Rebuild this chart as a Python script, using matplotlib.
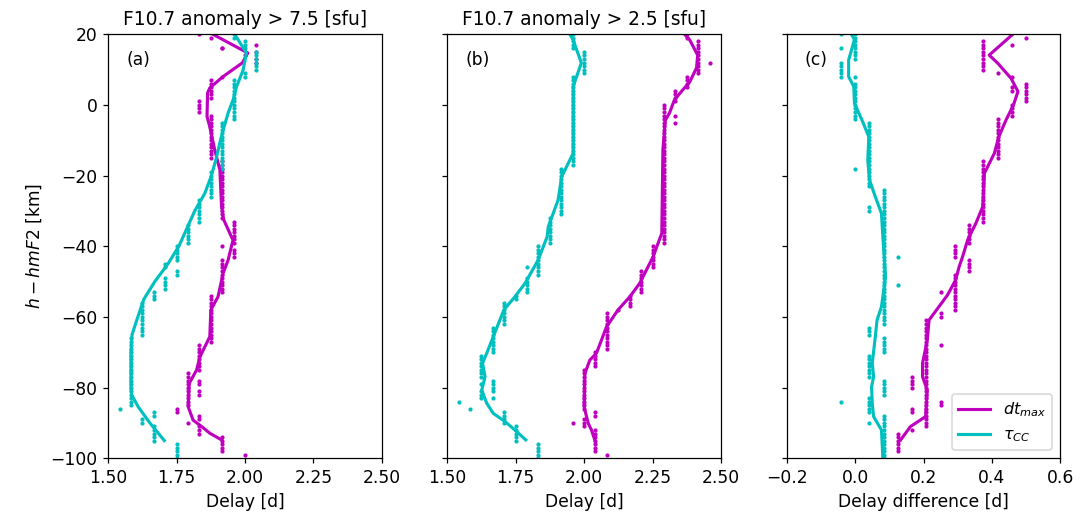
import matplotlib
matplotlib.use("Agg")
import matplotlib.pyplot as plt
import numpy as np


HEIGHTS = np.arange(-100, 21)  # h - hmF2 grid [km], bottom to top
N = None

# delays in hours at every height level (rows of ten km, from -100 upward)
DTMAX_A_HOURS = [
    N, 48, 46, 46, 46, 46, 46, 44, 44, 44,
    43, 44, 44, 42, 42, 43, 43, 43, 43, 43,
    43, 43, 43, 43, 43, 44, 44, 44, 44, 44,
    44, 44, 44, 45, 45, 45, 45, 45, 45, 45,
    45, 45, 45, 45, 45, 45, 45, 46, 46, 46,
    46, 46, 46, 46, 46, 46, 46, 47, 47, 47,
    46, 47, 47, 47, 47, 47, 47, 47, 46, 46,
    46, 46, 46, 46, 46, 46, 46, 46, 46, 46,
    46, 46, 46, 46, 46, 45, 45, 45, 45, 45,
    45, 45, 45, 45, 45, 45, 45, 45, 44, 44,
    44, 44, 45, 45, 45, 45, 45, 45, 46, N,
    N, N, 49, 49, 48, 49, 46, 49, N, 45,
    44,
]
TAU_A_HOURS = [
    42, 42, 42, 42, 42, 40, 40, 40, 40, 40,
    39, 39, 40, 40, 37, 38, 38, 38, 38, 38,
    38, 38, 38, 38, 38, 38, 38, 38, 38, 38,
    38, 38, 38, 38, 38, 39, 39, 39, 39, 39,
    39, 39, 39, 39, 39, 40, 40, 40, 41, 41,
    41, 41, 42, 42, 41, 41, 42, 42, 42, 42,
    42, 43, 43, 43, 43, 43, 43, 44, 44, 44,
    44, 44, 44, 44, 45, 45, 45, 45, 45, 45,
    45, 45, 46, 46, 46, 46, 46, 46, 46, 46,
    46, 46, 46, 46, 46, 46, 47, 47, 47, 47,
    47, 47, 47, 47, 47, 47, 47, 47, 48, 48,
    49, 49, 49, 49, 49, 49, 48, 48, 48, 47,
    47,
]
DTMAX_B_HOURS = [
    N, 50, 49, 49, 49, 49, 49, 49, 49, 48,
    48, 48, 49, 49, 48, 48, 48, 48, 48, 48,
    48, 48, 48, 48, 48, 48, 49, 49, 49, 49,
    49, 50, 50, 50, 50, 50, 50, 50, 50, 50,
    50, 50, 51, 52, 52, 52, 52, 53, 53, 53,
    53, 53, 53, 53, 54, 54, 54, 54, 54, 54,
    54, 55, 55, 55, 55, 55, 55, 55, 55, 55,
    55, 55, 55, 55, 55, 55, 55, 55, 55, 55,
    55, 55, 55, 55, 55, 55, 55, 55, 55, 55,
    55, 55, 55, 55, 55, 55, 55, 55, 55, 55,
    55, 56, 56, 56, 56, 57, 57, 57, 57, 58,
    58, 58, 58, 58, 58, 58, 58, 58, 58, 57,
    57,
]
TAU_B_HOURS = [
    44, 44, 44, 44, 44, 42, 42, 42, 42, 42,
    41, 41, 41, 41, 38, N, 37, 39, 39, 40,
    40, 40, 40, 39, 39, 39, 39, 39, 39, 39,
    40, 40, 40, 40, 40, 40, 40, 40, 41, 41,
    41, 41, 41, 41, 41, 42, 42, 43, 43, 43,
    43, 43, 44, 44, 44, 44, 44, 44, 44, 44,
    44, 45, 45, 45, 45, 45, 45, 45, 45, 46,
    46, 46, 46, 46, 46, 46, 46, 46, 46, 46,
    46, 46, 46, 47, 47, 47, 47, 47, 47, 47,
    47, 47, 47, 47, 47, 47, 47, 47, 47, 47,
    47, 47, 47, 47, 47, 47, 47, 47, 47, 48,
    48, 48, 48, 48, 48, 48, 47, 47, 47, 47,
    47,
]
DTMAX_C_HOURS = [
    N, N, 3, 3, 3, 3, 3, 3, 4, 5,
    5, 5, 5, 5, 5, 5, 5, 5, 5, 5,
    5, 5, 5, 5, 5, 5, 5, 5, 5, 5,
    5, 5, 5, 5, 5, 5, 5, 5, 5, 5,
    6, 6, 7, 7, 7, 7, 7, 7, 7, 7,
    7, 7, 7, 8, 8, 8, 8, 7, 7, 7,
    7, 8, 8, 8, 8, 8, 8, 9, 9, 9,
    9, 9, 9, 9, 9, 9, 9, 9, 9, 9,
    9, 9, 9, 9, 9, 10, 10, 10, 10, 10,
    10, 10, 10, 10, 10, 10, 10, 11, 11, 11,
    11, 12, 12, 12, 12, 12, 12, N, 11, 10,
    9, 9, 9, 9, 9, 9, 9, 9, 9, 12,
    N,
]
TAU_C_HOURS = [
    2, 2, 2, 2, 2, 2, 2, 2, 2, 2,
    2, 2, 2, 1, 1, 1, 1, 1, 2, 2,
    2, 2, 2, 1, 1, 1, 1, 1, 1, 1,
    2, 2, 2, 2, 2, 1, 1, 1, 2, 2,
    2, 2, 2, 2, 2, 2, 2, 2, 2, 2,
    2, 2, 2, 2, 2, 2, 2, 2, 2, 2,
    2, 2, 2, 2, 2, 2, 2, 2, 2, 2,
    2, 2, 2, 2, 2, 2, 2, 1, 1, 1,
    1, 1, 1, 1, 1, 1, 1, 1, 1, 1,
    1, 1, 1, 1, 1, 1, 0, 0, 0, 0,
    0, 0, 0, 0, 0, 0, 0, N, -1, -1,
    -1, -1, -1, 0, 0, 0, 0, 0, 0, 0,
    0,
]

# additional points sharing a height with the ones above: (height, hours)
DTMAX_A_EXTRA = [(-78, 44), (-79, 44), (-81, 44), (-82, 44), (16, 46)]
TAU_A_EXTRA = []
DTMAX_B_EXTRA = [(-90, 47), (-3, 56), (-5, 56), (12, 59)]
TAU_B_EXTRA = [(-46, 43), (-79, 39), (-81, 39), (-83, 40)]
DTMAX_C_EXTRA = [(4, 11), (5, 11), (17, 11), (-53, 6), (-68, 6),
                 (-77, 4), (-78, 4), (-79, 4), (-80, 4), (-86, 4), (-87, 4),
                 (-84, 6), (-85, 6)]
TAU_C_EXTRA = [(8, 0), (16, -1), (20, -1), (-18, 0), (-29, 1), (-30, 1),
               (-43, 3), (-51, 3), (-84, -1), (-90, 1)]

# smoothed profiles: heights [km] and delays [d]
DTMAX_A_LINE_H = [20, 14.7, 11.9, 8, 4.8, 3.4, -3.3, -6.2, -12.7, -18.4,
                  -28.8, -32.5, -37.3, -38.2, -43.9, -47.6, -54.3, -58,
                  -65.6, -71.3, -75, -78.8, -85.4, -89.2, -91, -92.9, -94.8]
DTMAX_A_LINE_D = [1.882, 2.01, 1.99, 1.919, 1.871, 1.863, 1.861, 1.871,
                  1.889, 1.908, 1.914, 1.922, 1.95, 1.956, 1.938, 1.92,
                  1.901, 1.875, 1.871, 1.835, 1.823, 1.796, 1.792, 1.81,
                  1.841, 1.871, 1.914]
TAU_A_LINE_H = [20, 14.7, 9.9, 5.2, 1.4, -2.3, -7.1, -10, -15, -20, -25,
                -30, -35, -40, -45, -50, -55, -60, -65, -70, -75, -80, -82,
                -85.5, -90, -95]
TAU_A_LINE_D = [1.962, 2.005, 1.993, 1.969, 1.956, 1.938, 1.92, 1.91,
                1.895, 1.877, 1.853, 1.816, 1.787, 1.758, 1.718, 1.67,
                1.63, 1.608, 1.587, 1.583, 1.583, 1.583, 1.585, 1.61,
                1.652, 1.705]
DTMAX_B_LINE_H = [20, 18.4, 14.1, 10.5, 6.5, 4.2, 1.4, -2.3, -4.3, -12.7,
                  -36.3, -43, -50.5, -54.3, -58, -62.8, -70.3, -72.2, -76,
                  -85.4, -90.1, -92, -94.8]
DTMAX_B_LINE_D = [2.367, 2.386, 2.415, 2.411, 2.386, 2.36, 2.33, 2.312,
                  2.297, 2.288, 2.284, 2.252, 2.203, 2.167, 2.124, 2.082,
                  2.045, 2.021, 2.003, 2.0, 2.015, 2.027, 2.039]
TAU_B_LINE_H = [20, 18.4, 11.9, 5.2, -13.7, -20.3, -26.9, -34.5, -37.3,
                -43.9, -50.5, -54.3, -58, -65.6, -70.3, -73.1, -76.9,
                -80.7, -84.4, -87.3, -89.6, -92, -94.8]
TAU_B_LINE_D = [1.948, 1.96, 1.99, 1.96, 1.96, 1.918, 1.905, 1.869, 1.865,
                1.832, 1.784, 1.747, 1.707, 1.668, 1.644, 1.629, 1.638,
                1.626, 1.644, 1.668, 1.711, 1.747, 1.787]
DTMAX_C_LINE_H = [20, 14.1, 11.8, 7.5, 3.8, 0, -4.3, -9, -13.7, -19.3,
                  -28.8, -33.5, -38.2, -43, -45.8, -49.5, -53.8, -57.1,
                  -60.9, -66.5, -73.1, -76.9, -80.7, -88.2, -91, -94.8]
DTMAX_C_LINE_D = [0.461, 0.392, 0.417, 0.456, 0.476, 0.463, 0.441, 0.42,
                  0.407, 0.378, 0.373, 0.353, 0.329, 0.314, 0.304, 0.294,
                  0.27, 0.245, 0.216, 0.211, 0.197, 0.197, 0.211, 0.206,
                  0.162, 0.133]
TAU_C_LINE_H = [20, 18.5, 12.7, 8, 5.2, 0.5, -4.3, -9, -15.6, -21.2, -26,
                -30.7, -37.3, -48.6, -57.1, -60.9, -65.6, -73.1, -76.9,
                -79.8, -84.4, -88.2, -92, -100]
TAU_C_LINE_D = [-0.011, -0.002, -0.019, -0.019, -0.004, -0.002, 0.02, 0.04,
                0.037, 0.042, 0.059, 0.077, 0.081, 0.089, 0.077, 0.064,
                0.059, 0.05, 0.054, 0.048, 0.05, 0.054, 0.077, 0.081]

TITLES = ["F10.7 anomaly > 7.5 [sfu]", "F10.7 anomaly > 2.5 [sfu]", ""]
LETTERS = ["(a)", "(b)", "(c)"]
MAGENTA = "m"
CYAN = "c"


def points(hours, extra):
    """Per-height hourly delays plus extra points, returned in days."""
    values = np.array([np.nan if v is None else v for v in hours], float)
    h = np.concatenate([HEIGHTS, [e[0] for e in extra]])
    d = np.concatenate([values, [e[1] for e in extra]]) / 24.0
    return d, h


def main() -> None:
    plt.rcParams["font.size"] = 11
    plt.rcParams["legend.fontsize"] = 10.3
    fig = plt.figure(figsize=(1088 / 112, 519 / 112), dpi=112)
    lefts = (0.0995, 0.4111, 0.7231)
    axes = [fig.add_axes((left, 0.117, 0.2515, 0.817)) for left in lefts]

    panels = (
        (DTMAX_A_HOURS, DTMAX_A_EXTRA, DTMAX_A_LINE_D, DTMAX_A_LINE_H,
         TAU_A_HOURS, TAU_A_EXTRA, TAU_A_LINE_D, TAU_A_LINE_H),
        (DTMAX_B_HOURS, DTMAX_B_EXTRA, DTMAX_B_LINE_D, DTMAX_B_LINE_H,
         TAU_B_HOURS, TAU_B_EXTRA, TAU_B_LINE_D, TAU_B_LINE_H),
        (DTMAX_C_HOURS, DTMAX_C_EXTRA, DTMAX_C_LINE_D, DTMAX_C_LINE_H,
         TAU_C_HOURS, TAU_C_EXTRA, TAU_C_LINE_D, TAU_C_LINE_H),
    )
    for i, (ax, panel) in enumerate(zip(axes, panels)):
        mh, mx, mld, mlh, th, tx, tld, tlh = panel
        d, h = points(mh, mx)
        ax.plot(d, h, "o", color=MAGENTA, ms=2.7, mew=0)
        d, h = points(th, tx)
        ax.plot(d, h, "o", color=CYAN, ms=2.7, mew=0)
        ax.plot(mld, mlh, "-", color=MAGENTA, lw=2, label=r"$dt_{max}$")
        ax.plot(tld, tlh, "-", color=CYAN, lw=2, label=r"$\tau_{CC}$")

        ax.set_ylim(-100, 20)
        ax.set_yticks(np.arange(-100, 21, 20))
        if i < 2:
            ax.set_xlim(1.5, 2.5)
            ax.set_xticks([1.5, 1.75, 2.0, 2.25, 2.5])
            ax.set_xticklabels(["1.50", "1.75", "2.00", "2.25", "2.50"])
            ax.set_xlabel("Delay [d]")
        else:
            ax.set_xlim(-0.2, 0.6)
            ax.set_xticks([-0.2, 0.0, 0.2, 0.4, 0.6])
            ax.set_xlabel("Delay difference [d]")
        if i == 0:
            ax.set_ylabel(r"$h-hmF2$ [km]")
        else:
            ax.set_yticklabels([])
        if TITLES[i]:
            ax.set_title(TITLES[i], fontsize=12)
        ax.text(0.065, 0.94, LETTERS[i], transform=ax.transAxes,
                fontsize=11, va="center", ha="left")

    axes[2].legend(loc="lower right")
    fig.savefig("out.png", dpi=112, facecolor="white")
    plt.close(fig)


if __name__ == "__main__":
    main()
